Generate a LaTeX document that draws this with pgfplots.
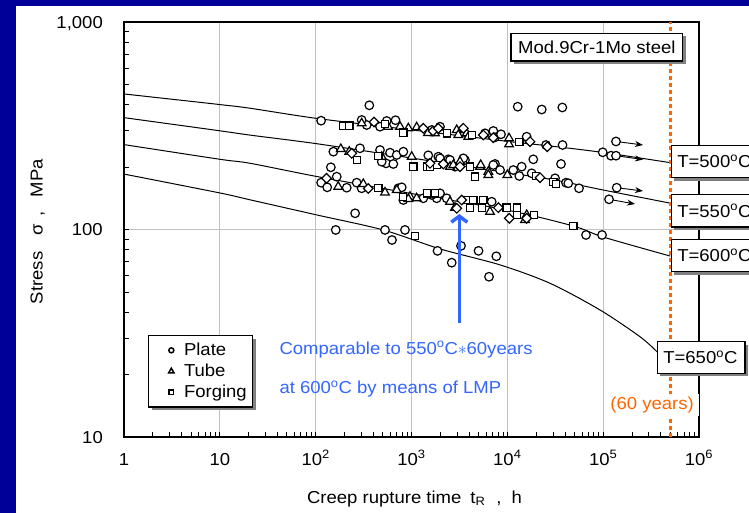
\documentclass[border=0pt]{standalone}
\usepackage{pgfplots}
\pgfplotsset{compat=1.18}
\usepackage{fontspec}
\setmainfont{Liberation Sans}[FakeStretch=1.07]
\usetikzlibrary{shadows,arrows.meta}
\definecolor{frameblue}{RGB}{0,0,153}
\definecolor{annblue}{RGB}{51,102,255}
\definecolor{orangeline}{RGB}{255,102,0}
\definecolor{gridgray}{RGB}{192,192,192}
\newcommand{\fs}{\fontsize{17.3}{20}\selectfont}
\tikzset{myshadow/.style={drop shadow={shadow xshift=3pt,shadow yshift=-3pt,fill=black!50,opacity=1}}}
\begin{document}
\begin{tikzpicture}[font=\fs]
\fill[frameblue] (0pt,0pt) rectangle (749pt,-513pt);
\fill[white] (16pt,-6pt) rectangle (749pt,-513pt);
\begin{axis}[
 at={(124pt,-437pt)}, anchor=south west,
 scale only axis, width=575pt, height=415pt,
 xmode=log, ymode=log, xmin=1, xmax=1e6, ymin=10, ymax=1000,
 xtick={1,10,100,1000,10000,100000,1000000},
 xticklabels={1,10,10\textsuperscript{2},10\textsuperscript{3},10\textsuperscript{4},10\textsuperscript{5},10\textsuperscript{6}},
 minor xtick={2,3,4,5,6,7,8,9,20,30,40,50,60,70,80,90,200,300,400,500,600,700,800,900,2000,3000,4000,5000,6000,7000,8000,9000,20000,30000,40000,50000,60000,70000,80000,90000,200000,300000,400000,500000,600000,700000,800000,900000},
 ytick={10,100,1000}, yticklabels={10,100,{1,000}},
 minor ytick={20,30,40,50,60,70,80,90,200,300,400,500,600,700,800,900},
 tick pos=left, tick align=inside,
 major tick length=5pt, minor tick length=5pt,
 every tick/.style={black, line width=0.8pt},
 xmajorgrids, ymajorgrids,
 major grid style={gridgray, line width=1pt},
 axis line style={line width=1.4pt},
 xticklabel style={font=\fs, anchor=base, inner sep=0pt, yshift=-28pt},
 yticklabel style={font=\fs, anchor=base east, inner sep=0pt, xshift=-21pt, yshift=-6.4pt},
 legend style={at={(0.0417,0.2458)}, anchor=north west, font=\fs, draw=black, line width=1.2pt, fill=white,
   inner xsep=4pt, inner ysep=5.5pt, row sep=2.5pt, column sep=8pt,
   nodes={inner sep=2pt, text height=12.5pt, text depth=2pt}, myshadow},
 legend cell align=left,
 legend image code/.code={\path (0pt,0pt); \draw[#1] plot coordinates {(18pt,0pt)};},
]
% master curves
\addplot[black, line width=1pt, smooth, forget plot] coordinates {(1,450)(10,400)(20.7,384)(103,343)(1000,302)(10000,266)(31500,251)(100000,235)(500000,210)};
\addplot[black, line width=1pt, smooth, forget plot] coordinates {(1,346)(10,299)(20.7,285)(103,259)(1000,221)(10000,188)(31500,173)(100000,155)(500000,134)};
\addplot[black, line width=1pt, smooth, forget plot] coordinates {(1,256.5)(10,218)(20.7,208.5)(103,180)(1000,149)(10000,124)(48600,104)(100000,92)(500000,74.5)};
\addplot[black, line width=1pt, smooth, forget plot] coordinates {(1,185)(10,150)(20.7,139)(103,117.5)(506,99.5)(1990,80.6)(8410,67.5)(28000,55)(93000,40.9)(243000,30.4)(366000,25.7)};
% run-out arrows
\draw[black, line width=0.9pt, -{Stealth[length=8pt,width=6pt]}] (axis cs:136100,265.6) -- (axis cs:260600,255.4);
\draw[black, line width=0.9pt, -{Stealth[length=8pt,width=6pt]}] (axis cs:136100,226.8) -- (axis cs:260600,217.4);
\draw[black, line width=0.9pt, -{Stealth[length=8pt,width=6pt]}] (axis cs:138400,159.0) -- (axis cs:260600,153.3);
\draw[black, line width=0.9pt, -{Stealth[length=8pt,width=6pt]}] (axis cs:115100,139.8) -- (axis cs:214800,132.7);
% Plate
\addplot[only marks, mark=*, mark size=4.3pt, mark options={draw=black, fill=white, line width=1.2pt}, forget plot] coordinates {
(114,334.5)(363,396.8)(341,318.9)(302,337.1)(551,333.4)(681,336.3)(469,312.9)(1625,301.7)(1983,312.9)(5848,290.8)(7140,298.4)(7436,278.2)(8590,287.6)(15920,280.0)(25350,255.4)(37670,255.4)(12830,390.7)(22860,378.7)(37500,387.3)(98900,235.5)(120800,226.8)(136100,226.8)(136100,265.6)(18660,217.9)(36310,206.9)
(153,237.1)(290,246.2)(597,234.5)(701,228.6)(822,237.1)(542,208.4)(646,206.9)(1496,227.8)(1905,224.3)(2422,217.9)(2843,200.8)(3614,216.2)(7436,206.9)(1983,220.3)(2523,216.2)(3475,220.3)(7140,204.6)(8390,193.5)(11540,193.5)(14120,200.8)(13330,181.1)(17950,186.6)(31480,176.5)(40930,168.1)(43250,167.0)(55980,158.0)(138400,159.0)(115100,139.8)(469,241.6)(489,212.2)
(144,199.5)(114,168.1)(132,159.7)(166,179.7)(211,159.0)(268,168.1)(302,158.0)(728,158.0)(791,159.7)(822,138.7)(1327,141.4)(1832,141.4)(1625,146.7)(1983,149.4)(2330,141.4)(6868,136.1)(66220,94.1)(97300,94.1)
(258,119.7)(162,99.5)(529,99.5)(626,89.0)(855,99.5)(1868,78.9)(2628,69.2)(3286,83.4)(5004,78.9)(7674,74.3)(6442,59.2)};
% Tube
\addplot[only marks, mark=triangle*, mark size=5pt, mark options={draw=black, fill=white, line width=1.2pt}, forget plot] coordinates {
(302,324.9)(759,312.9)(927,307.4)(1132,310.9)(1486,291.8)(1758,290.8)(2965,301.7)(3078,285.4)(3767,290.8)(3917,280.0)(10420,257.4)(10420,275.1)(569,312.9)
(183,244.3)(224,237.1)(489,224.3)(1005,224.3)(2523,200.8)(3206,212.2)(5188,200.8)(6335,190.0)(2731,204.6)(5273,204.6)(6335,183.1)(10000,183.1)
(172,160.8)(314,165.7)(529,150.8)(701,155.0)(964,143.9)(1132,141.4)(927,140.3)(2523,136.1)(2843,127.4)(6592,121.8)(15920,117.5)(15290,111.1)};
% Forging
\addplot[only marks, mark=square*, mark size=3.6pt, mark options={draw=black, fill=white, line width=1.2pt}, forget plot] coordinates {
(194,316.4)(225,316.4)(822,292.8)(2330,290.8)(4249,285.4)(13330,264.9)(529,321.4)
(268,216.2)(451,226.0)(1045,200.8)(1442,200.8)(1832,204.6)(4600,179.7)(4083,200.8)(19910,181.1)(30200,168.9)(32220,165.7)(1560,200.8)
(451,158.0)(815,143.9)(1442,149.4)(1758,149.4)(3767,138.7)(4418,138.7)(5614,138.7)(4083,127.4)(5403,127.4)(9840,127.4)(12700,127.4)(12700,117.5)(18970,117.5)(48860,104.0)
(1080,93.0)};
% other (diamonds)
\addplot[only marks, mark=square*, mark size=3.4pt, mark options={rotate=45, draw=black, fill=white, line width=1.2pt}, forget plot] coordinates {
(406,329.7)(1327,307.4)(1676,298.4)(1905,307.4)(3475,307.4)(5614,285.4)(7140,277.0)(17240,264.9)(26130,250.6)
(238,232.9)(1560,208.4)(2148,206.9)(3206,200.8)(21930,177.7)
(130,176.5)(354,157.6)(3342,138.7)(2965,126.5)(8054,127.4)(10490,113.2)(15920,113.2)};
% 60 years line
\draw[orangeline, line width=3pt, dash pattern=on 4pt off 3pt] (axis cs:510000,10) -- (axis cs:510000,1000);
\addlegendimage{mark=*, mark options={fill=white}, black, line width=1.5pt, mark size=2.5pt}
\addlegendentry{Plate}
\addlegendimage{mark=triangle*, mark options={fill=white}, black, line width=1.5pt, mark size=3.1pt}
\addlegendentry{Tube}
\addlegendimage{mark=square*, mark options={fill=white}, black, line width=1.5pt, mark size=2.4pt}
\addlegendentry{Forging}
\end{axis}
% labels
\node[rotate=90, anchor=base, inner sep=0pt] at (42.7pt,-231.5pt) {Stress\hspace{16pt}σ\hspace{8pt},\hspace{14pt}MPa};
\node[anchor=base, inner sep=0pt] at (414.5pt,-503pt) {Creep rupture time\hspace{9pt}t\textsubscript{R}\hspace{11pt},\hspace{10pt}h};
% boxes
\node[draw=black, line width=1.2pt, fill=white, myshadow, minimum width=171.7pt, minimum height=27.7pt, inner sep=0pt] at (596.8pt,-47.2pt) {Mod.9Cr-1Mo steel};
\node[draw=black, line width=1.2pt, fill=white, myshadow, anchor=west, text width=75.6pt, align=left, inner xsep=6pt, minimum height=32.4pt] at (670.7pt,-161.5pt) {T=500\textsuperscript{o}C};
\node[draw=black, line width=1.2pt, fill=white, myshadow, anchor=west, text width=75.6pt, align=left, inner xsep=6pt, minimum height=32.4pt] at (670.7pt,-210.8pt) {T=550\textsuperscript{o}C};
\node[draw=black, line width=1.2pt, fill=white, myshadow, anchor=west, text width=75.6pt, align=left, inner xsep=6pt, minimum height=32.4pt] at (670.7pt,-255.5pt) {T=600\textsuperscript{o}C};
\node[draw=black, line width=1.2pt, fill=white, myshadow, anchor=west, text width=75.6pt, align=left, inner xsep=6pt, minimum height=31.6pt] at (656.7pt,-357.5pt) {T=650\textsuperscript{o}C};
\node[fill=white, inner xsep=5pt, inner ysep=3pt, text=orangeline, anchor=base east] at (699pt,-409.7pt) {(60 years)};
% annotation
\draw[annblue, line width=3.5pt, -{Straight Barb[length=6pt,width=16pt]}] (459.3pt,-323.3pt) -- (459.3pt,-214pt);
\node[anchor=base west, inner sep=0pt, text=annblue] at (279.3pt,-354pt) {Comparable to 550\textsuperscript{o}C$\ast$60years};
\node[anchor=base west, inner sep=0pt, text=annblue] at (279.3pt,-393.5pt) {at 600\textsuperscript{o}C by means of LMP};
\pgfresetboundingbox
\path[use as bounding box] (0pt,0pt) rectangle (749pt,-513pt);
\end{tikzpicture}
\end{document}
